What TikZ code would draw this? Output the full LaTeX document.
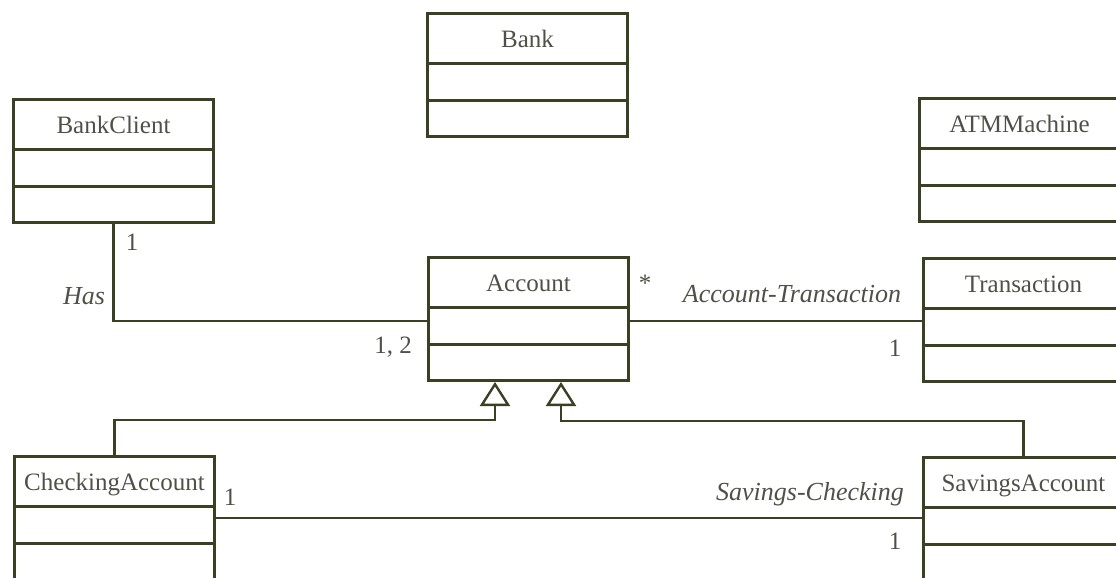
\documentclass[tikz,border=0pt]{standalone}
\usepackage{fontspec}
\setmainfont{Liberation Serif}
\usetikzlibrary{positioning,arrows.meta,shapes.multipart}

\definecolor{umlline}{RGB}{58,64,36}
\definecolor{umltext}{RGB}{80,80,72}

% class name with a strut, so the first compartment is taller
\newcommand{\cname}[1]{\rule[-7.2pt]{0pt}{23.5pt}#1}

\begin{document}
\begin{tikzpicture}[
    x=0.5pt, y=-0.5pt,
    umlclass/.style={rectangle split, rectangle split parts=3,
      draw=umlline, line width=1.5pt, anchor=north west,
      minimum width=100pt, inner xsep=0pt, inner ysep=0pt,
      rectangle split empty part height=16.75pt,
      rectangle split empty part depth=0pt,
      font=\fontsize{12.5}{14}\selectfont, text=umltext},
    assoc/.style={draw=umlline, line width=1.2pt},
    inherit/.style={assoc, -{Triangle[open, length=12pt, width=15pt]}},
    mult/.style={font=\fontsize{12.5}{14}\selectfont, text=umltext, inner sep=0pt},
    role/.style={mult, font=\fontsize{13}{15}\selectfont\itshape},
  ]
  \useasboundingbox (0,0) rectangle (1116,578);
  \clip (0,0) rectangle (1116,578);

  % Classes
  \node[umlclass] (bank)     at (426,12)  {\cname{Bank}};
  \node[umlclass] (client)   at (12,98)   {\cname{BankClient}};
  \node[umlclass] (atm)      at (918,97)  {\cname{ATMMachine}};
  \node[umlclass] (account)  at (427,256) {\cname{Account}};
  \node[umlclass] (trans)    at (922,257) {\cname{Transaction}};
  \node[umlclass] (checking) at (13,455)  {\cname{CheckingAccount}};
  \node[umlclass] (savings)  at (922,456) {\cname{SavingsAccount}};

  % Associations
  \draw[assoc] (client.south) |- ([yshift=-1pt]account.west);
  \draw[assoc] ([yshift=-1pt]account.east) -- ([yshift=-1pt]account.east -| trans.west);
  \draw[assoc] (checking.east) -- (checking.east -| savings.west);

  % Generalizations
  \draw[inherit] (checking.north) -- ++(0,-35) -| ([xshift=-16.75pt]account.south);
  \draw[inherit] (savings.north) -- ++(0,-35) -| ([xshift=16.25pt]account.south);

  % Multiplicities and association names
  \node[mult] (mClient)   at (132,242) {1};
  \node[role] (lHas)      at (84,296)  {Has};
  \node[mult] (mAccount)  at (393,347) {1, 2};
  \node[mult] (mStar)     at (645,283) {*};
  \node[role] (lAccTrans) at (792,294) {Account-Transaction};
  \node[mult] (mTrans)    at (895,348) {1};
  \node[mult] (mChecking) at (230,497) {1};
  \node[role] (lSavCheck) at (810,494) {Savings-Checking};
  \node[mult] (mSavings)  at (895,541) {1};
\end{tikzpicture}
\end{document}
